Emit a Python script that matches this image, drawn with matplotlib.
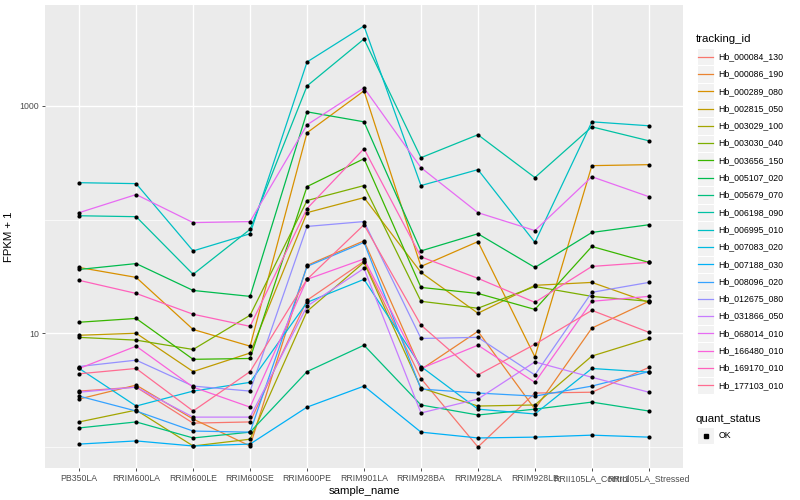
import numpy as np
import matplotlib.pyplot as plt
from matplotlib.patches import Rectangle
from matplotlib.ticker import NullFormatter

plt.rcParams['font.family'] = ['Liberation Sans', 'DejaVu Sans']

# x categories
samples = ['PB350LA', 'RRIM600LA', 'RRIM600LE', 'RRIM600SE', 'RRIM600PE',
           'RRIM901LA', 'RRIM928BA', 'RRIM928LA', 'RRIM928LB',
           'RRII105LA_Control', 'RRII105LA_Stressed']

# FPKM + 1
hb_000084_130 = [3.1, 3.36, 1.62, 1.66, 19.5, 43, 4.0, 1.0, 2.98, 3.03, 5.0]
hb_000086_190 = [2.64, 3.5, 1.76, 1.02, 39.5, 65, 4.8, 10.4, 2.15, 11.1, 19.1]
hb_000289_080 = [37.9, 31, 10.8, 7.7, 580, 1355, 38.7, 64, 6.2, 298, 304]
hb_002815_050 = [9.6, 10.0, 4.6, 6.7, 115, 156, 34.3, 15.0, 26.4, 28, 18.7]
hb_003029_100 = [1.66, 2.11, 1.02, 1.17, 15.6, 42, 3.3, 2.29, 2.34, 6.3, 9.0]
hb_003030_040 = [9.2, 8.7, 7.2, 14.4, 147, 199, 19.1, 16.6, 25.8, 21.1, 19.1]
hb_003656_150 = [12.5, 13.5, 5.9, 6.0, 195, 343, 25.3, 22.4, 16.2, 58, 42]
hb_005107_020 = [36.4, 41, 23.8, 21.1, 886, 724, 53, 75, 37.9, 77, 90]
hb_005679_070 = [1.47, 1.66, 1.20, 1.35, 4.6, 7.85, 2.34, 1.91, 2.15, 2.48, 2.07]
hb_006198_090 = [108, 106, 33, 82, 1497, 3870, 350, 557, 234, 654, 493]
hb_006995_010 = [211, 207, 53, 75, 2432, 5035, 199, 275, 63, 724, 668]
hb_007083_020 = [4.9, 2.29, 3.1, 3.7, 18.7, 29.8, 5.1, 2.15, 1.95, 4.9, 4.55]
hb_007188_030 = [1.06, 1.13, 1.02, 1.06, 2.24, 3.43, 1.35, 1.20, 1.22, 1.27, 1.22]
hb_008096_020 = [2.8, 2.07, 1.38, 1.35, 38.7, 63, 3.23, 2.98, 2.8, 3.43, 4.6]
hb_012675_080 = [5.1, 5.8, 3.43, 3.1, 87, 96, 9.0, 9.2, 4.3, 22.9, 28]
hb_031866_050 = [3.03, 3.36, 1.83, 1.83, 17.3, 37.2, 1.99, 2.64, 5.6, 4.1, 3.03]
hb_068014_010 = [115, 166, 94, 96, 681, 1438, 286, 115, 80, 238, 159]
hb_166480_010 = [4.9, 7.7, 3.36, 2.24, 29.8, 45, 4.9, 7.85, 3.7, 19.1, 21.1]
hb_169170_010 = [29.2, 22.4, 14.7, 11.5, 125, 420, 47, 30.4, 18.7, 38.7, 42]
hb_177103_010 = [4.4, 4.9, 2.07, 4.6, 29.8, 90, 11.8, 4.3, 8.0, 15.9, 10.2]

series = {
    'Hb_000084_130': hb_000084_130, 'Hb_000086_190': hb_000086_190,
    'Hb_000289_080': hb_000289_080, 'Hb_002815_050': hb_002815_050,
    'Hb_003029_100': hb_003029_100, 'Hb_003030_040': hb_003030_040,
    'Hb_003656_150': hb_003656_150, 'Hb_005107_020': hb_005107_020,
    'Hb_005679_070': hb_005679_070, 'Hb_006198_090': hb_006198_090,
    'Hb_006995_010': hb_006995_010, 'Hb_007083_020': hb_007083_020,
    'Hb_007188_030': hb_007188_030, 'Hb_008096_020': hb_008096_020,
    'Hb_012675_080': hb_012675_080, 'Hb_031866_050': hb_031866_050,
    'Hb_068014_010': hb_068014_010, 'Hb_166480_010': hb_166480_010,
    'Hb_169170_010': hb_169170_010, 'Hb_177103_010': hb_177103_010,
}

# ggplot default hue palette for 20 groups
colors = ['#F8766D', '#EA8331', '#D89000', '#C09B00', '#A3A500', '#7CAE00',
          '#39B600', '#00BB4E', '#00BF7D', '#00C1A3', '#00BFC4', '#00BAE0',
          '#00B0F6', '#35A2FF', '#9590FF', '#C77CFF', '#E76BF3', '#FA62DB',
          '#FF62BC', '#FF6C91']

W, H = 800, 500
fig = plt.figure(figsize=(8, 5), dpi=100)
ax = fig.add_axes([45 / W, 1 - 468 / H, (683 - 45) / W, (468 - 5) / H])
ax.set_facecolor('#EBEBEB')
for s in ax.spines.values():
    s.set_visible(False)

x = np.arange(len(samples))
for (name, vals), col in zip(series.items(), colors):
    ax.plot(x, vals, color=col, lw=0.9, zorder=2)
for name, vals in series.items():
    ax.plot(x, vals, 'o', color='black', ms=3.0, mew=0, zorder=3)

ax.set_yscale('log')
allv = np.concatenate([np.array(v, float) for v in series.values()])
lo, hi = np.log10(allv.min()), np.log10(allv.max())
pad = 0.05 * (hi - lo)
ax.set_ylim(10 ** (lo - pad), 10 ** (hi + pad))
ax.set_xlim(-0.6, len(samples) - 0.4)

ax.set_yticks([10, 1000])
ax.set_yticklabels(['10', '1000'])
ax.set_yticks([1, 100], minor=True)
ax.yaxis.set_minor_formatter(NullFormatter())
ax.set_xticks(x)
ax.set_xticklabels(samples)

ax.grid(True, which='major', color='white', lw=1.0, zorder=0)
ax.grid(True, which='minor', axis='y', color='white', lw=0.5, zorder=0)
ax.set_axisbelow(True)
ax.tick_params(which='major', length=2.2, width=0.6, color='#333333',
               labelsize=6.3, labelcolor='#4D4D4D', pad=2)
ax.tick_params(which='minor', length=0)

ax.set_xlabel('sample_name', fontsize=8.2, labelpad=2)
ax.set_ylabel('FPKM + 1', fontsize=8.2, labelpad=4)

# legends drawn in pixel space on an overlay
lg = fig.add_axes([0, 0, 1, 1])
lg.set_xlim(0, W)
lg.set_ylim(H, 0)
lg.axis('off')

key = 17.3
kx = 697
top = 48
lg.text(696, 39, 'tracking_id', fontsize=8.2, va='center', ha='left')
for i, (name, col) in enumerate(zip(series.keys(), colors)):
    y0 = top + i * key
    lg.add_patch(Rectangle((kx, y0), key, key, facecolor='#F2F2F2',
                           edgecolor='white', lw=0.8))
    lg.plot([kx + 1, kx + key - 1], [y0 + key / 2] * 2, color=col, lw=0.9)
    lg.text(kx + key + 4, y0 + key / 2, name, fontsize=6.3,
            va='center', ha='left')

qy = top + len(series) * key + 18
lg.text(696, qy + 7, 'quant_status', fontsize=8.2, va='center', ha='left')
lg.add_patch(Rectangle((kx, qy + 15), key, key, facecolor='#F2F2F2',
                       edgecolor='white', lw=0.8))
lg.plot([kx + key / 2], [qy + 15 + key / 2], 's', color='black', ms=2.6)
lg.text(kx + key + 4, qy + 15 + key / 2, 'OK', fontsize=6.3,
        va='center', ha='left')

fig.savefig('out.png', dpi=100)
